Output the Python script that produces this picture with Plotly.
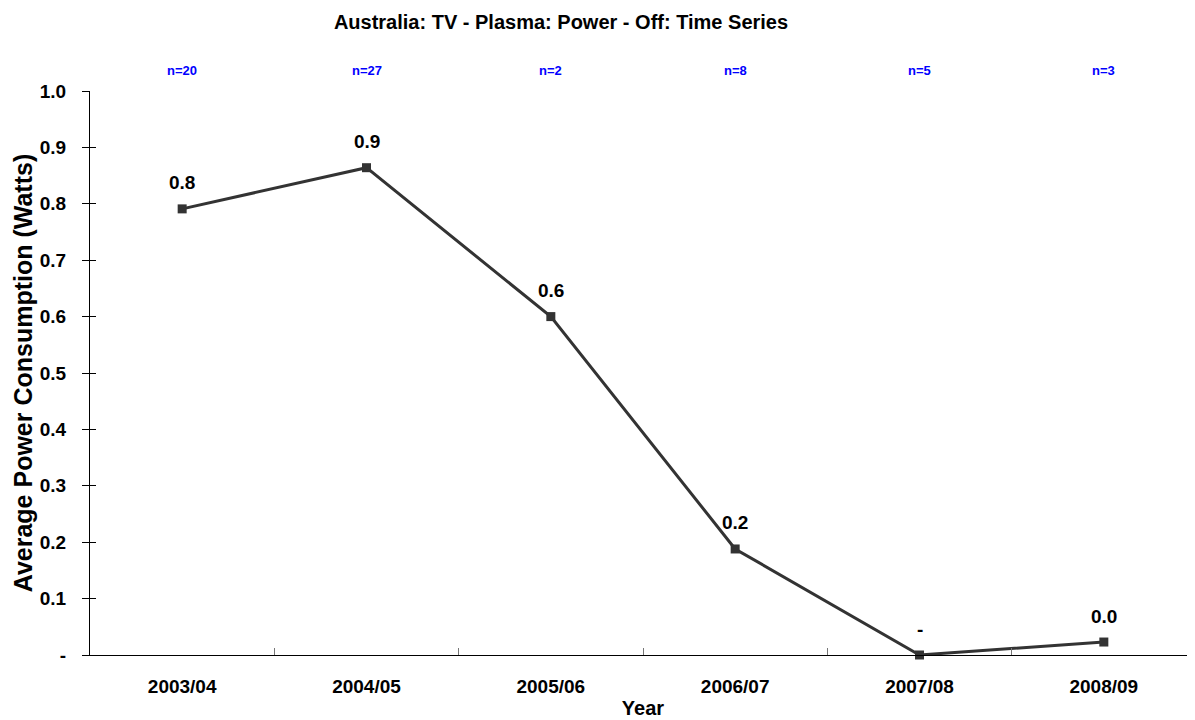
import plotly.graph_objects as go

years = ["2003/04", "2004/05", "2005/06", "2006/07", "2007/08", "2008/09"]
power = [0.791, 0.864, 0.600, 0.188, 0.0, 0.023]
point_labels = ["0.8", "0.9", "0.6", "0.2", "-", "0.0"]
counts = ["n=20", "n=27", "n=2", "n=8", "n=5", "n=3"]
y_tickvals = [0, 0.1, 0.2, 0.3, 0.4, 0.5, 0.6, 0.7, 0.8, 0.9, 1.0]
y_ticktext = ["-", "0.1", "0.2", "0.3", "0.4", "0.5", "0.6", "0.7", "0.8", "0.9", "1.0"]

FONT = "Liberation Sans, Arial, sans-serif"
# page body has an 8px default margin: figure coords = screen coords - 8
W, H = 1195, 720

fig = go.Figure()
fig.add_trace(go.Scatter(
    x=years, y=power, mode="lines+markers",
    line=dict(color="#333333", width=3),
    marker=dict(symbol="square", size=9, color="#333333"),
    cliponaxis=False, hoverinfo="skip", showlegend=False,
))
fig.add_trace(go.Scatter(x=[years[0]], y=[power[0]], yaxis="y2", mode="markers",
                         marker=dict(opacity=0), hoverinfo="skip", showlegend=False))

annotations = []
for cat, v, lab in zip(years, power, point_labels):
    annotations.append(dict(x=cat, y=v, xref="x", yref="y", text="<b>%s</b>" % lab,
                            showarrow=False, yshift=26, yanchor="middle",
                            font=dict(family=FONT, size=19, color="#000000")))
for cat, c in zip(years, counts):
    annotations.append(dict(x=cat, y=1, xref="x", yref="paper", text="<b>%s</b>" % c,
                            showarrow=False, yshift=21, yanchor="middle",
                            font=dict(family=FONT, size=13, color="#0000ff")))

fig.update_layout(
    width=W, height=H,
    margin=dict(l=82, r=7, t=83, b=73),
    paper_bgcolor="white", plot_bgcolor="white",
    font=dict(family=FONT, color="#000000"),
    title=dict(text="<b>Australia: TV - Plasma: Power - Off: Time Series</b>",
               x=(561 - 8) / W, xanchor="center", xref="container",
               y=1 - 14 / H, yanchor="middle", yref="container",
               font=dict(family=FONT, size=20, color="#000000")),
    annotations=annotations,
    xaxis=dict(
        type="category", range=[-0.5, 5.5],
        categoryorder="array", categoryarray=years,
        tickmode="array", tickvals=years,
        ticktext=["<b>%s</b>" % y for y in years],
        tickfont=dict(family=FONT, size=19, color="#000000"),
        showgrid=False, zeroline=False, showline=True, linecolor="#000000", linewidth=1,
        ticks="inside", tickson="boundaries", ticklen=7, tickcolor="#777777", tickwidth=1,
        ticklabelstandoff=14, automargin=False,
        title=dict(text="<b>Year</b>", font=dict(family=FONT, size=20, color="#000000"), standoff=5),
    ),
    yaxis=dict(
        range=[0, 1.0], tickmode="array", tickvals=y_tickvals,
        ticktext=["<b>%s</b>" % t for t in y_ticktext],
        tickfont=dict(family=FONT, size=19, color="#000000"),
        showgrid=False, zeroline=False, showline=True, linecolor="#000000", linewidth=1,
        ticks="outside", ticklen=7, tickcolor="#000000", tickwidth=1, automargin=False,
        ticklabelstandoff=12,
        title=dict(text="<b>Average Power Consumption (Watts)</b>",
                   font=dict(family=FONT, size=25, color="#000000"), standoff=0),
    ),
    yaxis2=dict(
        range=[0, 1.0], overlaying="y", side="left", tickmode="array", tickvals=y_tickvals,
        showticklabels=False, showgrid=False, zeroline=False, showline=False,
        ticks="inside", ticklen=6, tickcolor="#000000", tickwidth=1, automargin=False,
    ),
)

fig.write_html("out.html")
